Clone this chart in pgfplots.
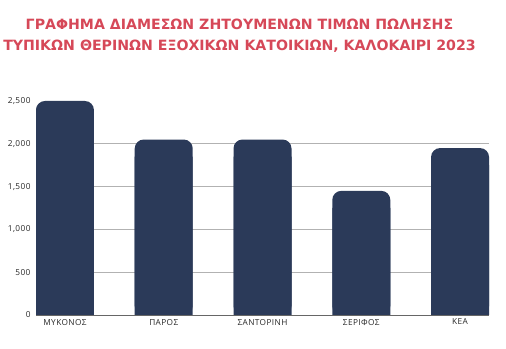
\documentclass[border=0pt]{standalone}
\usepackage{pgfplots}
\pgfplotsset{compat=1.18}
\usepackage{fontspec}
\setmainfont{Open Sans}
\newfontfamily\ttlfont{DejaVu Sans}
\newfontfamily\tickfont{Open Sans}[LetterSpace=5]
\definecolor{barc}{HTML}{2B3A59}
\definecolor{ttl}{HTML}{D64858}
\definecolor{txt}{HTML}{262626}
\begin{document}
\begin{tikzpicture}
\begin{axis}[
  set layers, axis on top=false,
  scale only axis, width=453bp, height=214bp,
  xmin=-0.293, xmax=4.293, ymin=0, ymax=2500,
  axis x line*=bottom, axis y line*=left,
  y axis line style={draw=none},
  x axis line style={draw=black!60, line width=0.9bp},
  major tick length=0pt,
  xtick={0,1,2,3,4},
  xticklabels={ΜΥΚΟΝΟΣ,ΠΑΡΟΣ,ΣΑΝΤΟΡΙΝΗ,ΣΕΡΙΦΟΣ,ΚΕΑ},
  ytick={500,1000,1500,2000},
  extra y ticks={0,2500},
  extra y tick style={grid=none},
  ymajorgrids,
  grid style={black!30, line width=0.6bp},
  /pgf/number format/assume math mode=true,
  /pgf/number format/1000 sep={,},
  scaled y ticks=false,
  ticklabel style={font=\tickfont\fontsize{8.3}{9}\selectfont, text=txt},
  yticklabel style={xshift=-2bp},
  xticklabel style={yshift=-0.5bp},
]
\addplot[ybar, bar width=58bp, bar shift=0pt, fill=barc, draw=none, rounded corners=9bp]
  coordinates {(0,2500) (1,2050) (2,2050) (3,1450) (4,1950)};
\addplot[ybar, bar width=58bp, bar shift=0pt, fill=barc, draw=none]
  coordinates {(0,2300) (1,1850) (2,1850) (3,1250) (4,1750)};
\end{axis}
\node[text=ttl, font=\ttlfont\bfseries\fontsize{14.2}{21.5}\selectfont, align=center, anchor=north, inner sep=0pt]
  at ([xshift=-23bp, yshift=82.5bp]current axis.north)
  {ΓΡΑΦΗΜΑ ΔΙΑΜΕΣΩΝ ΖΗΤΟΥΜΕΝΩΝ ΤΙΜΩΝ ΠΩΛΗΣΗΣ\\ΤΥΠΙΚΩΝ ΘΕΡΙΝΩΝ ΕΞΟΧΙΚΩΝ ΚΑΤΟΙΚΙΩΝ, ΚΑΛΟΚΑΙΡΙ 2023};
\pgfresetboundingbox
\path ([xshift=-36bp,yshift=-34bp]current axis.south west) rectangle ([xshift=17bp,yshift=101bp]current axis.north east);
\end{tikzpicture}
\end{document}
